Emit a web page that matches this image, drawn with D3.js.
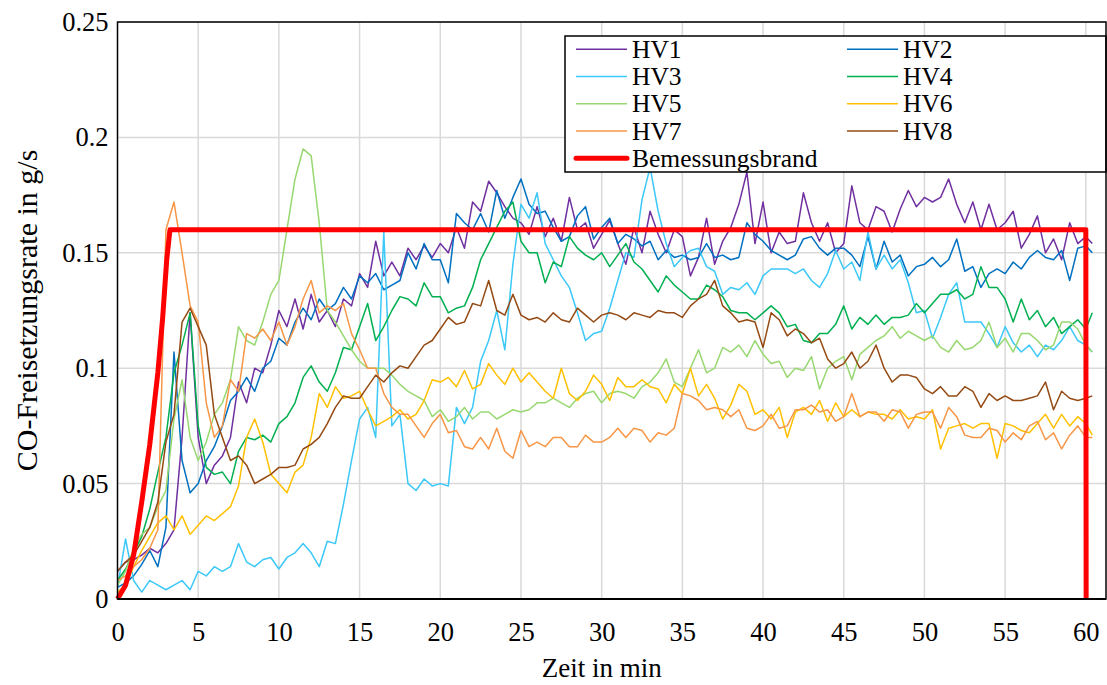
<!DOCTYPE html>
<html>
<head>
<meta charset="utf-8">
<script src="https://cdn.jsdelivr.net/npm/d3@7"></script>
<style>
    body { margin: 0; background: #ffffff; }
    svg text { font-family: "Liberation Serif", "Times New Roman", serif; fill: #000; }
</style>
</head>
<body>
<div id="chart"></div>
<script>

// time axis of the measurements (min), 0.5 min steps, last sample at 60.4
const times = d3.range(0, 60.25, 0.5).concat([60.4]);

// CO release rate in g/s, one row = 5 minutes
const hv1 = [
    0.012, 0.016, 0.017, 0.019, 0.022, 0.02, 0.024, 0.03, 0.07, 0.124,
    0.07, 0.05, 0.058, 0.062, 0.07, 0.094, 0.085, 0.1, 0.098, 0.11,
    0.125, 0.118, 0.13, 0.117, 0.132, 0.12, 0.125, 0.118, 0.13, 0.127,
    0.141, 0.135, 0.155, 0.14, 0.146, 0.14, 0.152, 0.147, 0.153, 0.148,
    0.154, 0.15, 0.161, 0.152, 0.172, 0.168, 0.181, 0.176, 0.17, 0.165,
    0.163, 0.158, 0.17, 0.157, 0.165, 0.155, 0.174, 0.16, 0.163, 0.152,
    0.158, 0.164, 0.154, 0.145, 0.161, 0.15, 0.168, 0.158, 0.15, 0.16,
    0.157, 0.14, 0.148, 0.165, 0.145, 0.155, 0.161, 0.171, 0.185, 0.154,
    0.172, 0.15, 0.159, 0.154, 0.155, 0.176, 0.163, 0.155, 0.163, 0.15,
    0.154, 0.179, 0.163, 0.16, 0.17, 0.168, 0.159, 0.169, 0.177, 0.17,
    0.174, 0.172, 0.174, 0.182, 0.171, 0.163, 0.172, 0.16, 0.171, 0.16,
    0.163, 0.168, 0.152, 0.158, 0.166, 0.15, 0.156, 0.147, 0.163, 0.154,
    0.157, 0.154
];
const hv2 = [
    0.005, 0.007, 0.01, 0.015, 0.021, 0.014, 0.031, 0.107, 0.06, 0.046,
    0.05, 0.06, 0.066, 0.075, 0.086, 0.09, 0.096, 0.09, 0.1, 0.103,
    0.113, 0.11, 0.12, 0.126, 0.121, 0.13, 0.125, 0.128, 0.135, 0.13,
    0.14, 0.137, 0.141, 0.134, 0.136, 0.138, 0.15, 0.143, 0.154, 0.147,
    0.147, 0.137, 0.167, 0.163, 0.16, 0.167, 0.159, 0.177, 0.165, 0.174,
    0.182, 0.171, 0.167, 0.168, 0.161, 0.155, 0.157, 0.166, 0.17, 0.156,
    0.161, 0.165, 0.154, 0.158, 0.156, 0.153, 0.155, 0.147, 0.151, 0.148,
    0.149, 0.147, 0.148, 0.154, 0.148, 0.149, 0.147, 0.148, 0.163, 0.158,
    0.155, 0.151, 0.149, 0.147, 0.149, 0.156, 0.157, 0.152, 0.149, 0.152,
    0.152, 0.149, 0.144, 0.157, 0.143, 0.155, 0.146, 0.149, 0.14, 0.144,
    0.145, 0.148, 0.144, 0.147, 0.156, 0.142, 0.144, 0.135, 0.141, 0.143,
    0.141, 0.146, 0.143, 0.148, 0.151, 0.148, 0.147, 0.151, 0.138, 0.152,
    0.153, 0.15
];
const hv3 = [
    0.005, 0.026, 0.008, 0.003, 0.008, 0.006, 0.004, 0.006, 0.008, 0.004,
    0.012, 0.01, 0.014, 0.012, 0.014, 0.024, 0.016, 0.014, 0.017, 0.018,
    0.013, 0.018, 0.02, 0.024, 0.02, 0.014, 0.025, 0.024, 0.041, 0.06,
    0.078, 0.083, 0.07, 0.159, 0.075, 0.08, 0.05, 0.047, 0.052, 0.049,
    0.05, 0.049, 0.083, 0.076, 0.083, 0.103, 0.112, 0.125, 0.108, 0.145,
    0.171, 0.165, 0.176, 0.154, 0.147, 0.14, 0.135, 0.124, 0.112, 0.115,
    0.116, 0.126, 0.138, 0.15, 0.148, 0.173, 0.187, 0.168, 0.154, 0.144,
    0.148, 0.151, 0.152, 0.144, 0.142, 0.132, 0.135, 0.134, 0.137, 0.132,
    0.14, 0.143, 0.143, 0.143, 0.141, 0.143, 0.138, 0.135, 0.141, 0.151,
    0.143, 0.146, 0.138, 0.159, 0.143, 0.149, 0.143, 0.147, 0.137, 0.124,
    0.125, 0.113, 0.122, 0.132, 0.137, 0.12, 0.12, 0.12, 0.115, 0.109,
    0.118, 0.111, 0.107, 0.11, 0.105, 0.11, 0.108, 0.112, 0.118, 0.112,
    0.11, 0.107
];
const hv4 = [
    0.008, 0.013, 0.02, 0.027, 0.039, 0.055, 0.07, 0.098, 0.11, 0.124,
    0.075, 0.057, 0.054, 0.055, 0.05, 0.064, 0.07, 0.069, 0.071, 0.068,
    0.076, 0.079, 0.085, 0.096, 0.101, 0.094, 0.09, 0.098, 0.109, 0.108,
    0.118, 0.128, 0.112, 0.118, 0.125, 0.131, 0.13, 0.127, 0.137, 0.131,
    0.131, 0.124, 0.126, 0.127, 0.135, 0.147, 0.154, 0.161, 0.168, 0.172,
    0.155, 0.15, 0.15, 0.137, 0.146, 0.144, 0.157, 0.152, 0.149, 0.147,
    0.15, 0.144, 0.149, 0.154, 0.146, 0.143, 0.138, 0.133, 0.14, 0.136,
    0.133, 0.13, 0.13, 0.136, 0.134, 0.131, 0.125, 0.124, 0.124, 0.121,
    0.124, 0.127, 0.124, 0.118, 0.119, 0.112, 0.111, 0.115, 0.115, 0.119,
    0.127, 0.117, 0.122, 0.119, 0.123, 0.119, 0.122, 0.122, 0.123, 0.128,
    0.124, 0.128, 0.132, 0.132, 0.134, 0.13, 0.132, 0.144, 0.135, 0.135,
    0.13, 0.12, 0.13, 0.121, 0.125, 0.118, 0.122, 0.115, 0.118, 0.121,
    0.117, 0.124
];
const hv5 = [
    0.006, 0.012, 0.022, 0.028, 0.031, 0.04, 0.047, 0.078, 0.095, 0.07,
    0.06, 0.068, 0.08, 0.085, 0.095, 0.118, 0.112, 0.11, 0.12, 0.132,
    0.138, 0.16, 0.182, 0.195, 0.192, 0.163, 0.125, 0.12, 0.114, 0.108,
    0.103, 0.1, 0.1, 0.1, 0.097, 0.093, 0.09, 0.088, 0.086, 0.079,
    0.082, 0.077, 0.079, 0.083, 0.078, 0.081, 0.081, 0.078, 0.08, 0.082,
    0.081, 0.082, 0.085, 0.085, 0.087, 0.085, 0.083, 0.087, 0.089, 0.09,
    0.085, 0.089, 0.09, 0.089, 0.087, 0.092, 0.094, 0.098, 0.104, 0.094,
    0.092, 0.1, 0.108, 0.098, 0.1, 0.109, 0.107, 0.11, 0.105, 0.112,
    0.106, 0.102, 0.103, 0.096, 0.1, 0.099, 0.105, 0.091, 0.1, 0.103,
    0.105, 0.095, 0.106, 0.109, 0.112, 0.114, 0.118, 0.113, 0.116, 0.114,
    0.112, 0.114, 0.109, 0.107, 0.112, 0.108, 0.109, 0.112, 0.12, 0.109,
    0.113, 0.107, 0.115, 0.115, 0.112, 0.108, 0.11, 0.12, 0.12, 0.117,
    0.11, 0.107
];
const hv6 = [
    0.003, 0.006, 0.014, 0.021, 0.027, 0.033, 0.036, 0.03, 0.036, 0.028,
    0.032, 0.036, 0.034, 0.037, 0.04, 0.049, 0.07, 0.078, 0.068, 0.054,
    0.05, 0.046, 0.055, 0.058, 0.07, 0.089, 0.083, 0.092, 0.087, 0.088,
    0.09, 0.082, 0.075, 0.077, 0.079, 0.082, 0.078, 0.08, 0.086, 0.095,
    0.094, 0.096, 0.092, 0.099, 0.091, 0.093, 0.102, 0.097, 0.093, 0.1,
    0.094, 0.098, 0.094, 0.09, 0.087, 0.1, 0.089, 0.086, 0.09, 0.097,
    0.093, 0.086, 0.096, 0.092, 0.092, 0.095, 0.092, 0.091, 0.085, 0.093,
    0.089, 0.1, 0.088, 0.093, 0.087, 0.078, 0.084, 0.093, 0.09, 0.08,
    0.082, 0.078, 0.083, 0.07, 0.081, 0.083, 0.08, 0.086, 0.077, 0.085,
    0.079, 0.082, 0.079, 0.081, 0.08, 0.08, 0.078, 0.082, 0.078, 0.079,
    0.078, 0.082, 0.065, 0.074, 0.075, 0.076, 0.074, 0.076, 0.076, 0.061,
    0.076, 0.075, 0.073, 0.072, 0.076, 0.08, 0.074, 0.08, 0.075, 0.079,
    0.076, 0.071
];
const hv7 = [
    0.008, 0.01, 0.014, 0.017, 0.022, 0.03, 0.16, 0.172, 0.15, 0.127,
    0.12, 0.085, 0.07, 0.075, 0.095, 0.09, 0.115, 0.113, 0.117, 0.112,
    0.12, 0.11, 0.118, 0.13, 0.138, 0.124, 0.127, 0.125, 0.128, 0.115,
    0.108, 0.1, 0.1, 0.089, 0.083, 0.08, 0.08, 0.075, 0.07, 0.076,
    0.08, 0.072, 0.073, 0.066, 0.065, 0.07, 0.065, 0.074, 0.064, 0.061,
    0.073, 0.066, 0.068, 0.066, 0.07, 0.07, 0.066, 0.066, 0.071, 0.068,
    0.068, 0.07, 0.074, 0.07, 0.074, 0.073, 0.068, 0.072, 0.071, 0.074,
    0.089, 0.088, 0.086, 0.082, 0.083, 0.082, 0.079, 0.082, 0.074, 0.073,
    0.075, 0.08, 0.074, 0.075, 0.082, 0.082, 0.084, 0.081, 0.082, 0.077,
    0.079, 0.089, 0.079, 0.081, 0.081, 0.077, 0.082, 0.081, 0.074, 0.08,
    0.081, 0.081, 0.074, 0.083, 0.079, 0.071, 0.07, 0.07, 0.074, 0.073,
    0.068, 0.072, 0.069, 0.075, 0.077, 0.069, 0.072, 0.065, 0.071, 0.075,
    0.07, 0.07
];
const hv8 = [
    0.012, 0.016, 0.019, 0.025, 0.031, 0.042, 0.068, 0.08, 0.12, 0.126,
    0.118, 0.11, 0.08, 0.07, 0.06, 0.062, 0.058, 0.05, 0.052, 0.054,
    0.057, 0.057, 0.058, 0.065, 0.067, 0.07, 0.076, 0.083, 0.088, 0.087,
    0.087, 0.092, 0.097, 0.094, 0.098, 0.101, 0.1, 0.105, 0.11, 0.112,
    0.117, 0.122, 0.119, 0.12, 0.128, 0.127, 0.138, 0.125, 0.123, 0.132,
    0.123, 0.121, 0.122, 0.12, 0.124, 0.121, 0.12, 0.126, 0.123, 0.12,
    0.123, 0.124, 0.123, 0.121, 0.124, 0.123, 0.122, 0.125, 0.124, 0.124,
    0.122, 0.127, 0.13, 0.132, 0.138, 0.127, 0.124, 0.12, 0.121, 0.12,
    0.109, 0.124, 0.121, 0.114, 0.117, 0.115, 0.111, 0.113, 0.104, 0.1,
    0.102, 0.107, 0.1, 0.103, 0.11, 0.1, 0.094, 0.097, 0.097, 0.096,
    0.091, 0.089, 0.092, 0.088, 0.088, 0.092, 0.09, 0.083, 0.089, 0.086,
    0.088, 0.086, 0.086, 0.087, 0.088, 0.094, 0.082, 0.09, 0.087, 0.086,
    0.087, 0.088
];

// design fire curve
const designTimes  = [0, 0.5, 1, 1.5, 2, 2.5, 2.8, 3.05, 3.25, 60, 60.02];
const designValues = [0, 0.006, 0.019, 0.042, 0.067, 0.098, 0.122, 0.147, 0.16, 0.16, 0];

const seriesNames  = ["HV1", "HV2", "HV3", "HV4", "HV5", "HV6", "HV7", "HV8"];
const seriesValues = [hv1, hv2, hv3, hv4, hv5, hv6, hv7, hv8];
const seriesColors = ["#7030a0", "#0070c0", "#3cc8f8", "#00b050", "#98d870", "#ffc000", "#f79646", "#944a12"];
const designName   = "Bemessungsbrand";

const xTicks = [0, 5, 10, 15, 20, 25, 30, 35, 40, 45, 50, 55, 60];
const yTicks = [0, 0.05, 0.1, 0.15, 0.2, 0.25];

const serif = '"Liberation Serif", "Times New Roman", serif';


class CoVis {

    constructor(parentElement) {
        this.parentElement = parentElement;
        this.initVis();
    }

    initVis() {
        let vis = this;

        vis.width = 1107;
        vis.height = 685;
        vis.plot = { left: 117.5, top: 22, right: 1106, bottom: 599 };

        vis.svg = d3.select("#" + vis.parentElement).append("svg")
            .attr("width", vis.width)
            .attr("height", vis.height)
            .attr("font-family", serif);

        vis.x = d3.scaleLinear()
            .domain([0, 61.25])
            .range([vis.plot.left, vis.plot.right]);

        vis.y = d3.scaleLinear()
            .domain([0, 0.25])
            .range([vis.plot.bottom, vis.plot.top]);

        // grid
        vis.svg.append("g")
            .selectAll("line.vgrid")
            .data(xTicks.filter(d => d > 0))
            .enter().append("line")
            .attr("x1", d => vis.x(d)).attr("x2", d => vis.x(d))
            .attr("y1", vis.plot.top).attr("y2", vis.plot.bottom)
            .attr("stroke", "#d9d9d9").attr("stroke-width", 1.5);

        vis.svg.append("g")
            .selectAll("line.hgrid")
            .data(yTicks.filter(d => d > 0))
            .enter().append("line")
            .attr("x1", vis.plot.left).attr("x2", vis.plot.right)
            .attr("y1", d => vis.y(d)).attr("y2", d => vis.y(d))
            .attr("stroke", "#d9d9d9").attr("stroke-width", 1.5);

        // axes (labels only)
        let xAxis = d3.axisBottom(vis.x).tickValues(xTicks).tickSize(0).tickPadding(23);
        let gx = vis.svg.append("g")
            .attr("transform", `translate(0, ${vis.plot.bottom})`)
            .call(xAxis);
        gx.select(".domain").remove();
        gx.attr("font-family", serif).attr("font-size", 26.5);
        gx.selectAll("text").style("font-family", serif).style("font-size", "26.5px").attr("fill", "#000");

        let yAxis = d3.axisLeft(vis.y).tickValues(yTicks).tickSize(0).tickPadding(9)
            .tickFormat(d => d === 0 ? "0" : String(+d.toFixed(2)));
        let gy = vis.svg.append("g")
            .attr("transform", `translate(${vis.plot.left}, 0)`)
            .call(yAxis);
        gy.select(".domain").remove();
        gy.attr("font-family", serif).attr("font-size", 26.5);
        gy.selectAll("text").style("font-family", serif).style("font-size", "26.5px").attr("fill", "#000");

        // axis titles
        vis.svg.append("text")
            .text("Zeit in min")
            .attr("x", (vis.x(0) + vis.x(60)) / 2)
            .attr("y", 677)
            .attr("text-anchor", "middle")
            .style("font-size", "27px");

        vis.svg.append("text")
            .text("CO-Freisetzungsrate in g/s")
            .attr("transform", `translate(37, ${(vis.plot.top + vis.plot.bottom) / 2}) rotate(-90)`)
            .attr("text-anchor", "middle")
            .style("font-size", "30px");

        vis.lineGroup = vis.svg.append("g").attr("class", "lines");
        vis.legendGroup = vis.svg.append("g").attr("class", "legend");

        vis.wrangleData();
    }

    wrangleData() {
        let vis = this;

        vis.series = seriesNames.map((name, i) => ({
            name: name,
            color: seriesColors[i],
            points: times.map((t, j) => [t, seriesValues[i][j]])
        }));

        vis.design = designTimes.map((t, j) => [t, designValues[j]]);

        vis.updateVis();
    }

    updateVis() {
        let vis = this;

        let line = d3.line()
            .defined(d => d[1] != null)
            .x(d => vis.x(d[0]))
            .y(d => vis.y(d[1]));

        vis.lineGroup.selectAll("path.hv")
            .data(vis.series)
            .enter().append("path")
            .attr("class", "hv")
            .attr("d", d => line(d.points))
            .attr("fill", "none")
            .attr("stroke", d => d.color)
            .attr("stroke-width", 1.5)
            .attr("stroke-linejoin", "round");

        vis.lineGroup.append("path")
            .attr("d", line(vis.design))
            .attr("fill", "none")
            .attr("stroke", "#ff0000")
            .attr("stroke-width", 5)
            .attr("stroke-linejoin", "round");

        // plot frame
        vis.svg.append("rect")
            .attr("x", vis.plot.left).attr("y", vis.plot.top)
            .attr("width", vis.plot.right - vis.plot.left)
            .attr("height", vis.plot.bottom - vis.plot.top)
            .attr("fill", "none")
            .attr("stroke", "#000").attr("stroke-width", 1.5);

        vis.svg.append("line")
            .attr("x1", vis.plot.left).attr("x2", vis.plot.right)
            .attr("y1", vis.plot.bottom).attr("y2", vis.plot.bottom)
            .attr("stroke", "#000").attr("stroke-width", 2);

        // legend
        let lg = vis.legendGroup;
        lg.append("rect")
            .attr("x", 565).attr("y", 36)
            .attr("width", 541).attr("height", 136)
            .attr("fill", "#fff")
            .attr("stroke", "#000").attr("stroke-width", 1.5);

        let entries = vis.series.map(d => ({ name: d.name, color: d.color, width: 1.5 }))
            .concat([{ name: designName, color: "#ff0000", width: 5 }]);

        let item = lg.selectAll("g.item")
            .data(entries)
            .enter().append("g")
            .attr("class", "item")
            .attr("transform", (d, i) => {
                let col = i % 2, row = Math.floor(i / 2);
                return `translate(${576 + col * 271}, ${49.3 + row * 27.25})`;
            });

        item.append("line")
            .attr("x1", 0).attr("x2", 51)
            .attr("stroke", d => d.color)
            .attr("stroke-width", d => d.width)
            .attr("stroke-linecap", d => d.width > 2 ? "round" : "butt");

        item.append("text")
            .text(d => d.name)
            .attr("x", 56)
            .attr("y", 8.5)
            .style("font-size", "25.5px");
    }
}

new CoVis("chart");

</script>
</body>
</html>
